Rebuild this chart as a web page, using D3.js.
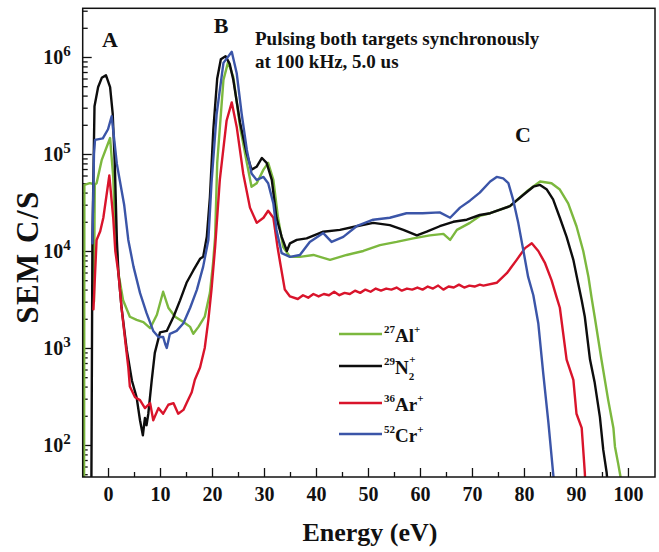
<!DOCTYPE html>
<html>
<head>
<meta charset="utf-8">
<title>SEM C/S vs energy</title>
<script src="https://cdn.jsdelivr.net/npm/d3@7"></script>
<style>
  body { margin: 0; background: #fff; }
  text { font-family: "Liberation Serif", "Times New Roman", serif; font-weight: bold; fill: #111; }
  .trace { fill: none; stroke-width: 2.4; stroke-linejoin: round; stroke-linecap: round; }
  .axis path { display: none; }
  .axis line { stroke: #111; stroke-width: 1.3; }
</style>
</head>
<body>
<script>
// energy (eV), counts (C/S)
var al27 = [[-4.6,40],[-4.55,4.8e4],[-3.5,5.0e4],[-2.8,4.9e4],[-2.7,3.0e3],[-2.55,4.8e4],[-2.2,5.0e4],[-1.2,8.7e4],[0.4,1.46e5],[1.0,5.8e4],
  [1.35,1.8e4],[1.7,1.0e4],[2.0,5.9e3],[2.9,3.1e3],[4.2,2.1e3],[5.5,1.95e3],[6.8,1.85e3],[8.1,1.6e3],[9.4,2.2e3],
  [10.6,3.8e3],[11.6,2.6e3],[12.9,2.1e3],[14.5,1.85e3],[15.8,1.65e3],[16.4,1.4e3],[17.4,1.65e3],[18.6,2.1e3],
  [19.6,3.7e3],[20.2,7.5e3],[20.6,1.4e4],[21.0,8.1e4],[22.2,5.8e5],[23.1,8.9e5],[24.1,6.2e5],[25.4,1.9e5],
  [26.7,8.1e4],[27.6,4.6e4],[28.6,5.0e4],[29.9,6.9e4],[30.8,8.1e4],[31.8,5.4e4],[32.7,2.2e4],[33.7,1.1e4],
  [35.0,8.7e3],[36.9,8.7e3],[39.5,9.1e3],[42.7,8.1e3],[45.9,9.1e3],[49.1,1.0e4],[52.3,1.15e4],[55.5,1.24e4],
  [58.7,1.35e4],[61.9,1.45e4],[64.5,1.5e4],[65.8,1.3e4],[67.1,1.65e4],[69.6,1.95e4],[71.5,2.3e4],[73.5,2.45e4],
  [77.3,2.9e4],[80.5,4.1e4],[83.1,5.2e4],[85.3,5.0e4],[86.9,4.3e4],[88.5,3.1e4],[90.1,1.8e4],[91.4,1.0e4],
  [92.4,5.4e3],[93.0,3.3e3],[93.6,2.1e3],[94.9,7.6e2],[96.2,2.9e2],[97.2,1.5e2],[97.5,96],[98.1,65],[98.8,40]];

var n2_29 = [[-3.2,40],[-3.0,1.3e4],[-2.6,3.1e5],[-1.9,4.9e5],[-1.2,6.1e5],[-0.4,6.5e5],[0.4,4.9e5],[0.9,2.6e5],
  [1.3,8.0e4],[1.7,1.3e4],[2.0,6.0e3],[2.6,2.6e3],[3.6,9.6e2],[4.6,4.6e2],[5.5,3.1e2],[6.15,1.8e2],[6.7,1.26e2],
  [7.1,1.9e2],[7.4,1.6e2],[7.75,2.1e2],[8.4,4.6e2],[9.0,8.9e2],[10.0,1.45e3],[11.3,1.5e3],[12.6,2.1e3],
  [13.85,3.1e3],[15.1,4.7e3],[16.4,6.3e3],[17.7,8.3e3],[18.3,8.7e3],[19.0,1.4e4],[19.6,3.6e4],[20.25,1.77e5],
  [21.0,6.0e5],[21.7,9.5e5],[22.6,1.02e6],[23.4,8.5e5],[24.1,5.8e5],[25.4,2.1e5],[26.7,1.0e5],[27.6,6.9e4],
  [28.6,7.4e4],[29.6,9.1e4],[30.5,8.1e4],[31.5,5.4e4],[32.4,2.2e4],[33.4,1.4e4],[34.4,1.0e4],[35.0,1.2e4],
  [36.3,1.3e4],[38.2,1.35e4],[41.4,1.58e4],[44.6,1.65e4],[47.8,1.8e4],[51.0,1.95e4],[54.2,1.85e4],[56.8,1.65e4],
  [59.4,1.45e4],[61.3,1.58e4],[63.8,1.8e4],[66.4,2.0e4],[69.0,2.1e4],[71.5,2.35e4],[73.5,2.45e4],[77.3,2.9e4],
  [79.9,3.8e4],[81.8,4.6e4],[83.1,4.8e4],[84.4,4.3e4],[85.6,3.4e4],[86.9,2.2e4],[88.2,1.4e4],[89.5,8.1e3],
  [90.4,4.7e3],[91.1,3.1e3],[91.7,2.1e3],[92.7,7.6e2],[93.6,4.4e2],[94.6,1.95e2],[95.25,89],[95.9,52],[96.1,40]];

var ar36 = [[-2.8,2.5e3],[-2.2,1.3e4],[-1.5,1.6e4],[-0.9,2.2e4],[0.25,6.0e4],[1.0,2.2e4],[1.4,1.0e4],[2.0,5.9e3],
  [2.6,2.6e3],[3.3,1.2e3],[3.9,6.3e2],[4.2,4.0e2],[5.2,3.1e2],[6.15,2.9e2],[7.1,2.4e2],[8.1,2.7e2],[8.7,1.8e2],
  [9.7,2.4e2],[10.6,2.1e2],[11.6,2.6e2],[12.6,2.7e2],[13.5,2.1e2],[14.5,2.3e2],[15.1,2.7e2],[16.1,3.5e2],
  [16.7,4.7e2],[17.7,6.3e2],[18.6,1.0e3],[19.3,1.95e3],[19.9,4.0e3],[20.6,1.1e4],[21.5,5.4e4],[22.8,2.2e5],
  [23.8,3.4e5],[24.75,1.9e5],[26.0,6.3e4],[27.3,2.8e4],[28.6,1.95e4],[29.9,2.2e4],[30.8,2.6e4],[31.8,2.2e4],
  [32.6,1.1e4],[33.1,7.6e3],[34.0,4.0e3],[35.0,3.4e3],[36.5,3.2e3],[37.5,3.5e3],[38.5,3.3e3],[39.5,3.6e3],
  [40.5,3.4e3],[41.5,3.6e3],[42.5,3.5e3],[43.5,3.8e3],[44.5,3.5e3],[45.5,3.7e3],[46.5,3.6e3],[47.5,3.9e3],
  [48.5,3.7e3],[49.5,4.0e3],[50.5,3.8e3],[51.5,4.1e3],[52.5,3.9e3],[53.5,4.1e3],[54.5,4.0e3],[55.5,4.2e3],
  [56.5,3.9e3],[57.5,4.1e3],[58.5,4.0e3],[59.5,4.2e3],[60.5,4.0e3],[61.5,4.3e3],[62.5,4.1e3],[63.5,4.4e3],
  [64.5,4.0e3],[65.5,4.3e3],[66.5,4.2e3],[67.5,4.5e3],[68.5,4.2e3],[69.5,4.4e3],[70.5,4.3e3],[71.5,4.5e3],
  [72.2,4.4e3],[74.75,4.7e3],[76.7,5.9e3],[78.6,8.1e3],[80.2,1.07e4],[81.5,1.2e4],[82.75,1.0e4],[84.0,7.6e3],
  [85.3,5.0e3],[86.3,3.3e3],[86.9,2.6e3],[88.2,7.6e2],[89.5,4.7e2],[90.1,2.1e2],[91.1,1.5e2],[91.4,89],
  [91.7,52],[91.8,40]];

var cr52 = [[-3.0,1.2e4],[-2.7,1.0e5],[-2.5,1.4e5],[-1.0,1.45e5],[0.0,1.8e5],[0.7,2.45e5],[1.7,7.9e4],[3.1,3.0e4],
  [3.9,1.3e4],[4.9,6.9e3],[6.15,3.7e3],[7.4,2.3e3],[8.7,1.5e3],[9.7,1.3e3],[10.6,1.3e3],[11.0,1.1e3],[11.3,1.0e3],
  [11.9,1.4e3],[13.2,1.5e3],[14.5,1.8e3],[15.8,2.6e3],[17.1,4.0e3],[18.3,6.9e3],[19.3,1.3e4],[19.9,5.0e4],
  [20.9,2.6e5],[22.2,8.7e5],[23.8,1.13e6],[24.75,6.8e5],[25.7,2.6e5],[26.7,1.1e5],[27.6,6.3e4],[28.6,5.4e4],
  [29.9,5.8e4],[30.8,5.0e4],[31.8,3.1e4],[32.4,1.65e4],[33.4,9.5e3],[35.0,8.7e3],[36.9,9.1e3],[38.8,1.24e4],
  [41.4,1.53e4],[43.0,1.24e4],[45.25,1.4e4],[47.8,1.8e4],[51.0,2.1e4],[54.2,2.2e4],[57.4,2.45e4],[60.5,2.45e4],
  [63.8,2.5e4],[65.8,2.2e4],[67.7,2.8e4],[69.6,3.3e4],[71.5,4.0e4],[73.5,5.2e4],[74.75,5.8e4],[76.0,5.6e4],
  [77.0,5.0e4],[77.9,3.4e4],[78.9,1.95e4],[79.9,1.0e4],[80.8,5.4e3],[81.8,3.5e3],[82.75,1.8e3],[83.7,5.5e2],
  [84.7,1.7e2],[85.6,52],[85.8,40]];

var seriesData = [al27, n2_29, ar36, cr52];
var seriesColors = ["#7cb83e", "#0d0d0d", "#d9142b", "#3b55a8"];

// legend labels: mass number, symbol, subscript
var legendMass = ["27", "29", "36", "52"];
var legendSym = ["Al", "N", "Ar", "Cr"];
var legendSub = ["", "2", "", ""];

var xTicks = [0, 10, 20, 30, 40, 50, 60, 70, 80, 90, 100];
var xMinor = [5, 15, 25, 35, 45, 55, 65, 75, 85, 95];
var yTicks = [1e2, 1e3, 1e4, 1e5, 1e6];

var peakLabels = ["A", "B", "C"];
var titleLines = ["Pulsing both targets synchronously", "at 100 kHz, 5.0 us"];

var W = 659, H = 552;
var pL = 82.7, pR = 655, pT = 8.3, pB = 477;

var svg = d3.select("body").append("svg")
  .attr("width", W)
  .attr("height", H);

var x = d3.scaleLinear().domain([-4.87, 105.2]).range([pL, pR]);
var y = d3.scaleLog().domain([Math.pow(10, 1.67), Math.pow(10, 6.502)]).range([pB, pT]);

// minor log ticks 2..9 per decade
var yMinor = [];
for (var e = 1; e <= 6; e++) {
  for (var m = 2; m <= 9; m++) {
    var v = m * Math.pow(10, e);
    if (v > y.domain()[0] && v < y.domain()[1]) yMinor.push(v);
  }
}

svg.append("clipPath").attr("id", "plot")
  .append("rect")
  .attr("x", pL).attr("y", pT)
  .attr("width", pR - pL).attr("height", pB - pT);

// x axis, ticks pointing inward
svg.append("g").attr("class", "axis")
  .attr("transform", "translate(0," + pB + ")")
  .call(d3.axisBottom(x).tickValues(xMinor).tickSize(-5).tickFormat(""));

var gx = svg.append("g").attr("class", "axis")
  .attr("transform", "translate(0," + pB + ")")
  .call(d3.axisBottom(x).tickValues(xTicks).tickSize(-9).tickPadding(10));
gx.selectAll("text").attr("font-size", 20).attr("fill", "#111")
  .style("font-family", "Liberation Serif").style("font-weight", "bold");

// y axis
svg.append("g").attr("class", "axis")
  .attr("transform", "translate(" + pL + ",0)")
  .call(d3.axisLeft(y).tickValues(yMinor).tickSize(-5).tickFormat(""));

var gy = svg.append("g").attr("class", "axis")
  .attr("transform", "translate(" + pL + ",0)")
  .call(d3.axisLeft(y).tickValues(yTicks).tickSize(-9).tickPadding(12).tickFormat(""));

gy.selectAll(".tick text")
  .attr("font-size", 20).attr("fill", "#111").attr("dy", "0.35em")
  .style("font-family", "Liberation Serif").style("font-weight", "bold")
  .each(function(d) {
    var t = d3.select(this);
    t.append("tspan").text("10");
    t.append("tspan").attr("dy", "-0.55em").attr("font-size", 15)
      .text(Math.round(Math.log10(d)));
  });

// traces
var line = d3.line()
  .x(function(d) { return x(d[0]); })
  .y(function(d) { return y(d[1]); });

svg.append("g").attr("clip-path", "url(#plot)")
  .selectAll("path.trace")
  .data(seriesData)
  .enter()
  .append("path")
  .attr("class", "trace")
  .attr("stroke", function(d, i) { return seriesColors[i]; })
  .attr("d", line);

// frame
svg.append("rect")
  .attr("x", pL).attr("y", pT)
  .attr("width", pR - pL).attr("height", pB - pT)
  .attr("fill", "none").attr("stroke", "#111").attr("stroke-width", 1.5);

// axis titles
svg.append("text")
  .attr("x", 370).attr("y", 541)
  .attr("text-anchor", "middle").attr("font-size", 26)
  .text("Energy (eV)");

svg.append("text")
  .attr("transform", "translate(38,257) rotate(-90)")
  .attr("text-anchor", "middle").attr("font-size", 31)
  .attr("letter-spacing", 1.5)
  .text("SEM C/S");

// peak labels
var peakPos = [[110, 47], [221, 33], [523, 142]];
svg.selectAll("text.peak")
  .data(peakLabels)
  .enter().append("text")
  .attr("class", "peak")
  .attr("x", function(d, i) { return peakPos[i][0]; })
  .attr("y", function(d, i) { return peakPos[i][1]; })
  .attr("text-anchor", "middle").attr("font-size", 22)
  .text(function(d) { return d; });

// note
svg.selectAll("text.note")
  .data(titleLines)
  .enter().append("text")
  .attr("class", "note")
  .attr("x", 255)
  .attr("y", function(d, i) { return 45 + i * 23; })
  .attr("font-size", 19)
  .text(function(d) { return d; });

// legend
var lg = svg.append("g").attr("transform", "translate(339,334)");
var rows = lg.selectAll("g")
  .data(legendSym)
  .enter().append("g")
  .attr("transform", function(d, i) { return "translate(0," + [0, 32, 69, 100][i] + ")"; });

rows.append("line")
  .attr("x1", 0).attr("x2", 43)
  .attr("stroke", function(d, i) { return seriesColors[i]; })
  .attr("stroke-width", 2.6);

var lt = rows.append("text")
  .attr("x", 45).attr("y", 8)
  .attr("font-size", 19);
lt.append("tspan").attr("font-size", 11).attr("dy", -9)
  .text(function(d, i) { return legendMass[i]; });
lt.append("tspan").attr("dy", 9).text(function(d) { return d; });
lt.each(function(d, i) {
  var t = d3.select(this);
  if (legendSub[i]) {
    t.append("tspan").attr("font-size", 11).attr("dy", 6).text(legendSub[i]);
    t.append("tspan").attr("font-size", 11).attr("dx", -5).attr("dy", -17).text("+");
  } else {
    t.append("tspan").attr("font-size", 11).attr("dy", -9).text("+");
  }
});
</script>
</body>
</html>
